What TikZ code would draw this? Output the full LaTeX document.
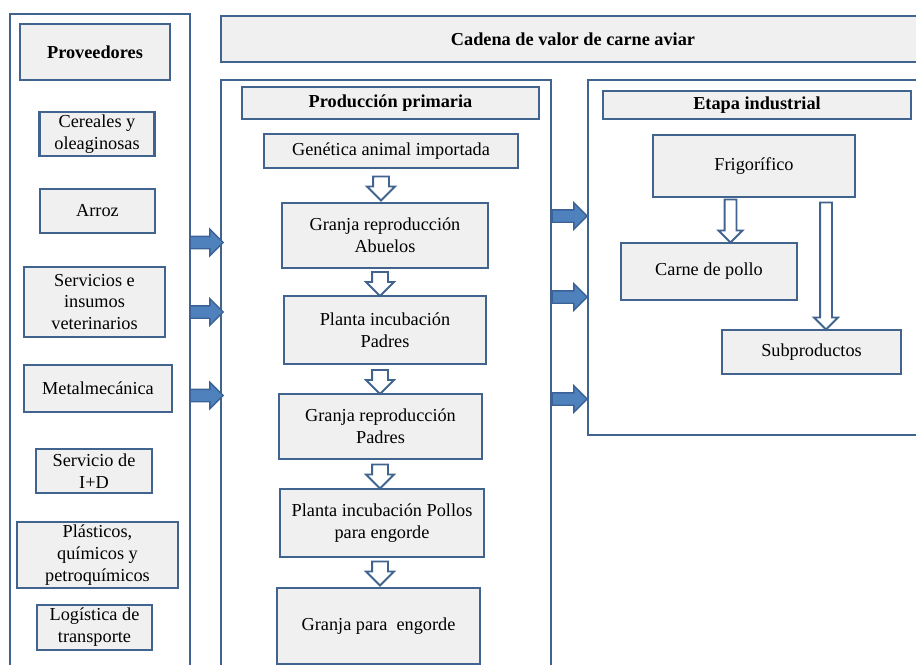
\documentclass[tikz,border=0pt]{standalone}
\usepackage{fontspec}
\setmainfont{Liberation Serif}
\usetikzlibrary{shapes.arrows}
\definecolor{borde}{HTML}{41648F}
\definecolor{relleno}{HTML}{F0F0F0}
\definecolor{azulflecha}{HTML}{4F81BD}
\definecolor{bordeflecha}{HTML}{3A6296}
\newdimen\px \px=0.02cm
\tikzset{
  caja/.style={draw=borde, fill=relleno, line width=1.2pt, align=center, inner sep=0pt,
    font=\fontsize{10.4}{12.5}\selectfont},
  titulo/.style={caja, font=\fontsize{10.4}{12.5}\selectfont\bfseries},
  marco/.style={draw=borde, line width=1.2pt},
  hueca/.style={single arrow, draw=borde, fill=white, line width=1.1pt, inner xsep=0pt,
    inner ysep=7\px, single arrow head extend=6\px, minimum height=24\px, rotate=-90},
  azul/.style={single arrow, draw=bordeflecha, fill=azulflecha, line width=0.8pt, inner xsep=0pt,
    inner ysep=5.5\px, single arrow head extend=7\px, minimum height=34\px}
}

\begin{document}
\begin{tikzpicture}[x=0.02cm, y=-0.02cm]
\useasboundingbox (0,0) rectangle (916,664);
\clip (0,0) rectangle (916,664);

% marcos
\draw[marco] (10,14) rectangle (190,700);
\draw[marco] (221,80) rectangle (551,700);
\draw[marco] (588,80) rectangle (940,435);

% proveedores
\node[titulo, minimum width=150\px, minimum height=56\px] (prov) at (95,52) {Proveedores};
\node[caja, minimum width=115\px, minimum height=44\px] (cereales) at (97,134) {Cereales y\\oleaginosas};
\node[caja, minimum width=115\px, minimum height=44\px] (arroz) at (97.5,211) {Arroz};
\node[caja, minimum width=141\px, minimum height=70\px] (servicios) at (94.5,302) {Servicios e\\insumos\\veterinarios};
\node[caja, minimum width=148\px, minimum height=47\px] (metal) at (98,388.5) {Metalmecánica};
\node[caja, minimum width=116\px, minimum height=44\px] (imasd) at (94,471) {Servicio de\\I+D};
\node[caja, minimum width=161\px, minimum height=66\px] (plasticos) at (97.5,555) {Plásticos,\\químicos y\\petroquímicos};
\node[caja, minimum width=115\px, minimum height=45\px] (logistica) at (94.5,627.5) {Logística de\\transporte};

% cadena
\node[titulo, minimum width=704\px, minimum height=46\px] (cadena) at (573,39) {Cadena de valor de carne aviar};

% produccion primaria
\node[titulo, minimum width=297\px, minimum height=32\px] (primaria) at (390.5,103) {Producción primaria};
\node[caja, minimum width=254\px, minimum height=34\px] (genetica) at (391,151) {Genética animal importada};
\node[caja, minimum width=206\px, minimum height=65\px] (abuelos) at (385,235.5) {Granja reproducción\\Abuelos};
\node[caja, minimum width=202\px, minimum height=68\px] (incpadres) at (385,330) {Planta incubación\\Padres};
\node[caja, minimum width=203\px, minimum height=65\px] (granjapadres) at (380.5,426.5) {Granja reproducción\\Padres};
\node[caja, minimum width=204\px, minimum height=68\px] (incpollos) at (382,523) {Planta incubación Pollos\\para engorde};
\node[caja, minimum width=203\px, minimum height=76\px] (engorde) at (378.5,626) {Granja para\ \ engorde};

\node[hueca] (f1) at (381,184.5) {};
\node[hueca] (f2) at (380,280) {};
\node[hueca] (f3) at (380,378) {};
\node[hueca] (f4) at (380,472.5) {};
\node[hueca] (f5) at (380,569.5) {};

% etapa industrial
\node[titulo, minimum width=308\px, minimum height=28\px] (industrial) at (757,105) {Etapa industrial};
\node[caja, minimum width=202\px, minimum height=62\px] (frigo) at (754,166) {Frigorífico};
\node[caja, minimum width=176\px, minimum height=57\px] (carne) at (709,271.5) {Carne de pollo};
\node[caja, minimum width=179\px, minimum height=44\px] (subprod) at (811.5,352) {Subproductos};

\node[hueca, inner ysep=5\px, minimum height=43\px] (f6) at (730.5,218) {};
\node[hueca, inner ysep=5\px, minimum height=127\px] (f7) at (826,263) {};

% flechas azules
\foreach \y [count=\i] in {242.5,312,395.5}
  \node[azul, minimum height=33\px] (izq\i) at (203.5,\y) {};
\foreach \y [count=\i] in {216,297,399}
  \node[azul, minimum height=35\px] (der\i) at (566.5,\y) {};
\end{tikzpicture}
\end{document}
